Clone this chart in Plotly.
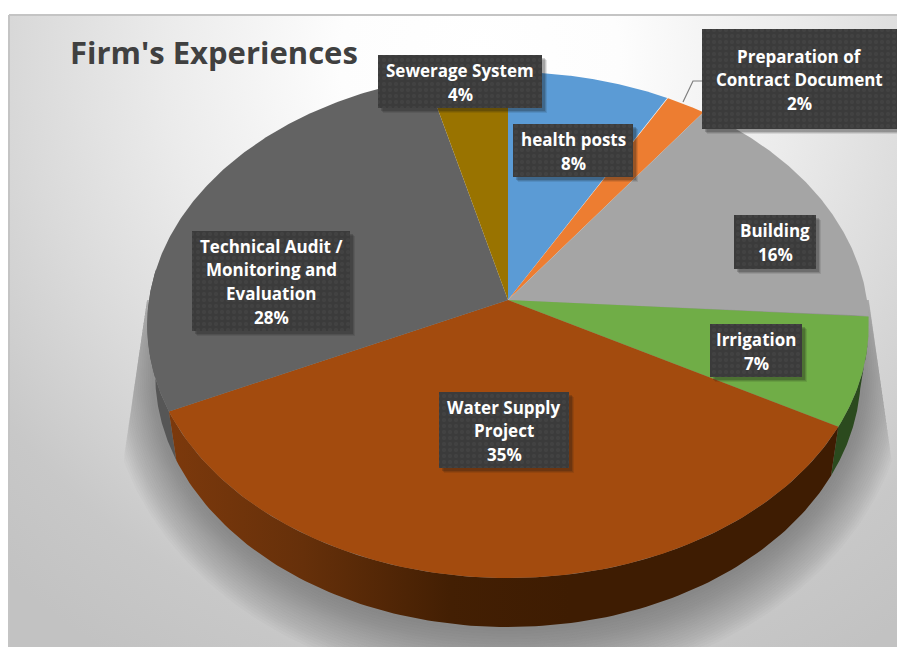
import numpy as np
import plotly.graph_objects as go

categories = ["health posts", "Preparation of<br>Contract Document", "Building", "Irrigation",
              "Water Supply<br>Project", "Technical Audit /<br>Monitoring and<br>Evaluation", "Sewerage System"]
values = [8, 2, 16, 7, 35, 28, 4]
top_colors = ["#5b9bd5", "#ed7d31", "#a5a5a5", "#70ad47", "#a34b0e", "#636363", "#997300"]
side_colors = ["#35597c", "#8a481c", "#606060", "#2b4a1e", "#3e1c02", "#565656", "#594300"]
title_text = "Firm's Experiences"

# perspective disc geometry (pixels)
CX, CY, A, B, K = 508, 300, 250.6, 359, 0.0988
DEPTH, SHRINK = 49, 0.978


def project(frac):
    t = np.asarray(frac) * 2 * np.pi
    u, v = np.sin(t), np.cos(t)
    d = 1 + K * v
    return CX + B * u / d, CY - A * v / d


def side_bottom(x, y):
    return CX + (x - CX) * SHRINK, y + DEPTH


fig = go.Figure()

# panel background
s = 700
fig.add_trace(go.Scatter(
    x=[480 - s, 480 + s, 480 + s, 480 - s, 480 - s],
    y=[60 - s, 60 - s, 60 + s, 60 + s, 60 - s],
    mode="lines", line=dict(width=0), fill="toself", hoverinfo="skip",
    fillgradient=dict(type="radial", colorscale=[[0, "#ffffff"], [0.2, "#fdfdfd"], [0.45, "#ebebeb"],
                                                 [0.65, "#dadada"], [0.85, "#c8c8c8"], [1, "#c2c2c2"]])))

# soft shadow under the pie, clipped to the two slanted edges
ang = np.linspace(0, 2 * np.pi, 361)
for d in np.linspace(62, 4, 22):
    ex = CX + (361 * SHRINK + d * 0.75) * np.sin(ang)
    ey = 325 + DEPTH + (253 + d) * np.cos(ang)
    left = 147 - 25 * (ey - 300) / 170
    right = 869 + 24 * (ey - 300) / 170
    ey2 = np.maximum(ey, 300)
    ex2 = np.minimum(np.maximum(ex, left), right)
    fig.add_trace(go.Scatter(x=ex2, y=ey2, mode="lines", line=dict(width=0), fill="toself",
                             fillcolor="rgba(70,70,70,0.028)", hoverinfo="skip"))

# slice boundaries
edges = np.concatenate([[0], np.cumsum(values)]) / np.sum(values)

# visible sides only: dark grey, green, then brown in front
for i, lo, hi in [(5, 0.0, -0.19), (3, 0.015, 0.0), (4, 0.0, 0.0)]:
    f = np.linspace(edges[i] + lo, edges[i + 1] + hi, 120)
    x, y = project(f)
    bx, by = side_bottom(x, y)
    kw = dict(fillcolor=side_colors[i])
    if i == 4:
        kw = dict(fillgradient=dict(type="horizontal",
                                    colorscale=[[0, "#7c390c"], [0.2, "#66300a"], [0.42, "#431f03"],
                                                [0.6, "#3e1c02"], [1, "#3e1c02"]]))
    fig.add_trace(go.Scatter(x=np.r_[x, bx[::-1], x[0]], y=np.r_[y, by[::-1], y[0]], mode="lines",
                             line=dict(width=0), fill="toself", hoverinfo="skip", **kw))

# top faces
for i in range(len(values)):
    f = np.linspace(edges[i], edges[i + 1], 160)
    x, y = project(f)
    fig.add_trace(go.Scatter(x=np.r_[CX, x, CX], y=np.r_[CY, y, CY], mode="lines", line=dict(width=0),
                             fill="toself", fillcolor=top_colors[i], name=categories[i], hoverinfo="skip"))

# leader line
fig.add_trace(go.Scatter(x=[683, 693, 703], y=[102, 81, 81], mode="lines",
                         line=dict(color="#7f7f7f", width=1.2), hoverinfo="skip"))

# label boxes: x0, x1, y0, y1 for each category
boxes = [(513, 633, 124, 177), (702, 897, 29, 129), (734, 816, 215, 269), (710, 802, 324, 377),
         (439, 569, 392, 468), (192, 350, 231, 331), (378, 542, 55, 108)]
for (x0, x1, y0, y1) in boxes:
    for off, a in [(5, 0.10), (4, 0.14), (3, 0.2)]:
        fig.add_trace(go.Scatter(x=[x0 + off, x1 + off, x1 + off, x0 + off, x0 + off],
                                 y=[y0 + off, y0 + off, y1 + off, y1 + off, y0 + off],
                                 mode="lines", line=dict(width=0), fill="toself",
                                 fillcolor=f"rgba(20,20,20,{a})", hoverinfo="skip"))
    fig.add_trace(go.Scatter(x=[x0, x1, x1, x0, x0], y=[y0, y0, y1, y1, y0], mode="lines",
                             line=dict(width=0), fill="toself", hoverinfo="skip",
                             fillcolor="#3c3c3c",
                             fillpattern=dict(shape=".", bgcolor="#3b3b3b", fgcolor="#4a4a4a",
                                              size=6, solidity=0.35)))

LINE = 23.6
for cat, val, (x0, x1, y0, y1) in zip(categories, values, boxes):
    lines = cat.split("<br>") + [f"{val}%"]
    mid = (y0 + y1) / 2 + 0.7
    for j, line in enumerate(lines):
        fig.add_annotation(x=(x0 + x1) / 2, y=mid + (j - (len(lines) - 1) / 2) * LINE, xref="x", yref="y",
                           text=f"<b>{line}</b>", showarrow=False, align="center",
                           font=dict(family="Open Sans", size=17, color="#ffffff"))

fig.add_annotation(x=68, y=52, xref="x", yref="y", xanchor="left", yanchor="middle", text=f"<b>{title_text}</b>",
                   showarrow=False, font=dict(family="Open Sans", size=31, color="#404040"))

# panel border
fig.add_shape(type="line", xref="paper", yref="paper", x0=0, x1=1, y0=1, y1=1,
              line=dict(color="#c4c4c4", width=2), layer="above")
fig.add_shape(type="line", xref="paper", yref="paper", x0=0, x1=0, y0=0, y1=1,
              line=dict(color="#c4c4c4", width=2), layer="above")

fig.update_layout(
    width=897, height=647, autosize=False, showlegend=False,
    margin=dict(l=9, r=0, t=15, b=0), paper_bgcolor="#ffffff", plot_bgcolor="#ffffff",
    xaxis=dict(range=[9, 897], visible=False, fixedrange=True),
    yaxis=dict(range=[647, 15], visible=False, fixedrange=True),
)
fig.write_html("out.html", config={"displayModeBar": False},
               post_script="document.body.style.margin='0';document.body.style.overflow='hidden';")
